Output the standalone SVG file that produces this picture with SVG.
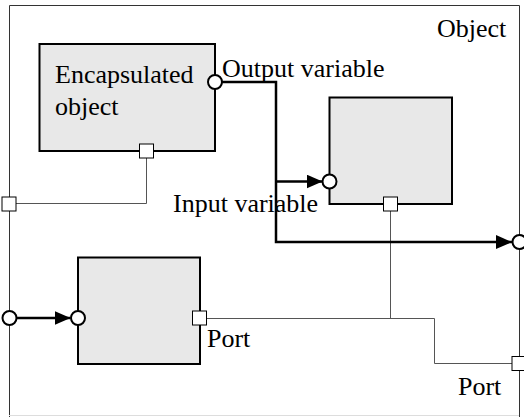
<svg xmlns="http://www.w3.org/2000/svg" width="524" height="417" viewBox="0 0 524 417">
<style>
  .box{fill:#e8e8e8;stroke:#000;stroke-width:2}
  .port{fill:#fff;stroke:#000;stroke-width:1}
  .var{fill:#fff;stroke:#000;stroke-width:2}
  .thin{fill:none;stroke:#555;stroke-width:1}
  .thick{fill:none;stroke:#000;stroke-width:2.5}
  .frame{fill:none;stroke:#333;stroke-width:1}
  text{font-family:"Liberation Serif","Times New Roman",serif;font-size:26px;fill:#000}
</style>
<defs>
  <marker id="arr" markerUnits="userSpaceOnUse" markerWidth="16" markerHeight="14" refX="16" refY="7" orient="auto">
    <path d="M0,0 L16,7 L0,14 Z" fill="#000"/>
  </marker>
</defs>
<g id="frame">
  <path class="frame" d="M9.5,417 V5.5 H519.5 V417"/>
  <line x1="9" y1="415.5" x2="519" y2="415.5" stroke="#ddd" stroke-width="1"/>
  <text x="437" y="37">Object</text>
</g>
<g id="connectors">
  <path class="thin" d="M146.5,158 V203.5 H16"/>
  <path class="thin" d="M390.5,211 V318.5"/>
  <path class="thin" d="M207,318.5 H434.5 V363.5 H512"/>
  <path class="thick" d="M222,82 H276 V242 H512" marker-end="url(#arr)"/>
  <path class="thick" d="M276,181.5 H322.5" marker-end="url(#arr)"/>
  <path class="thick" d="M16,318 H70.5" marker-end="url(#arr)"/>
</g>
<g id="encapsulated">
  <rect class="box" x="39.5" y="44" width="175.5" height="107"/>
  <text x="55" y="83">Encapsulated</text>
  <text x="55" y="115">object</text>
  <circle class="var" cx="215" cy="82" r="7"/>
  <rect class="port" x="139.5" y="144" width="14" height="14"/>
</g>
<g id="object2">
  <rect class="box" x="329.5" y="97.5" width="122.5" height="106.5"/>
  <circle class="var" cx="329.5" cy="181.5" r="7"/>
  <rect class="port" x="383.5" y="197" width="14" height="14"/>
</g>
<g id="object3">
  <rect class="box" x="78" y="257.5" width="122" height="106.5"/>
  <circle class="var" cx="78" cy="318" r="7"/>
  <rect class="port" x="192.5" y="311" width="14" height="14"/>
  <text x="207" y="347">Port</text>
</g>
<g id="frame-ports">
  <rect class="port" x="2" y="197" width="14" height="14"/>
  <circle class="var" cx="9.5" cy="318" r="7"/>
  <circle class="var" cx="519.5" cy="242" r="7"/>
  <rect class="port" x="512" y="356.5" width="14" height="14"/>
</g>
<g id="labels">
  <text x="222" y="77">Output variable</text>
  <text x="173" y="212">Input variable</text>
  <text x="458" y="395">Port</text>
</g>
</svg>
